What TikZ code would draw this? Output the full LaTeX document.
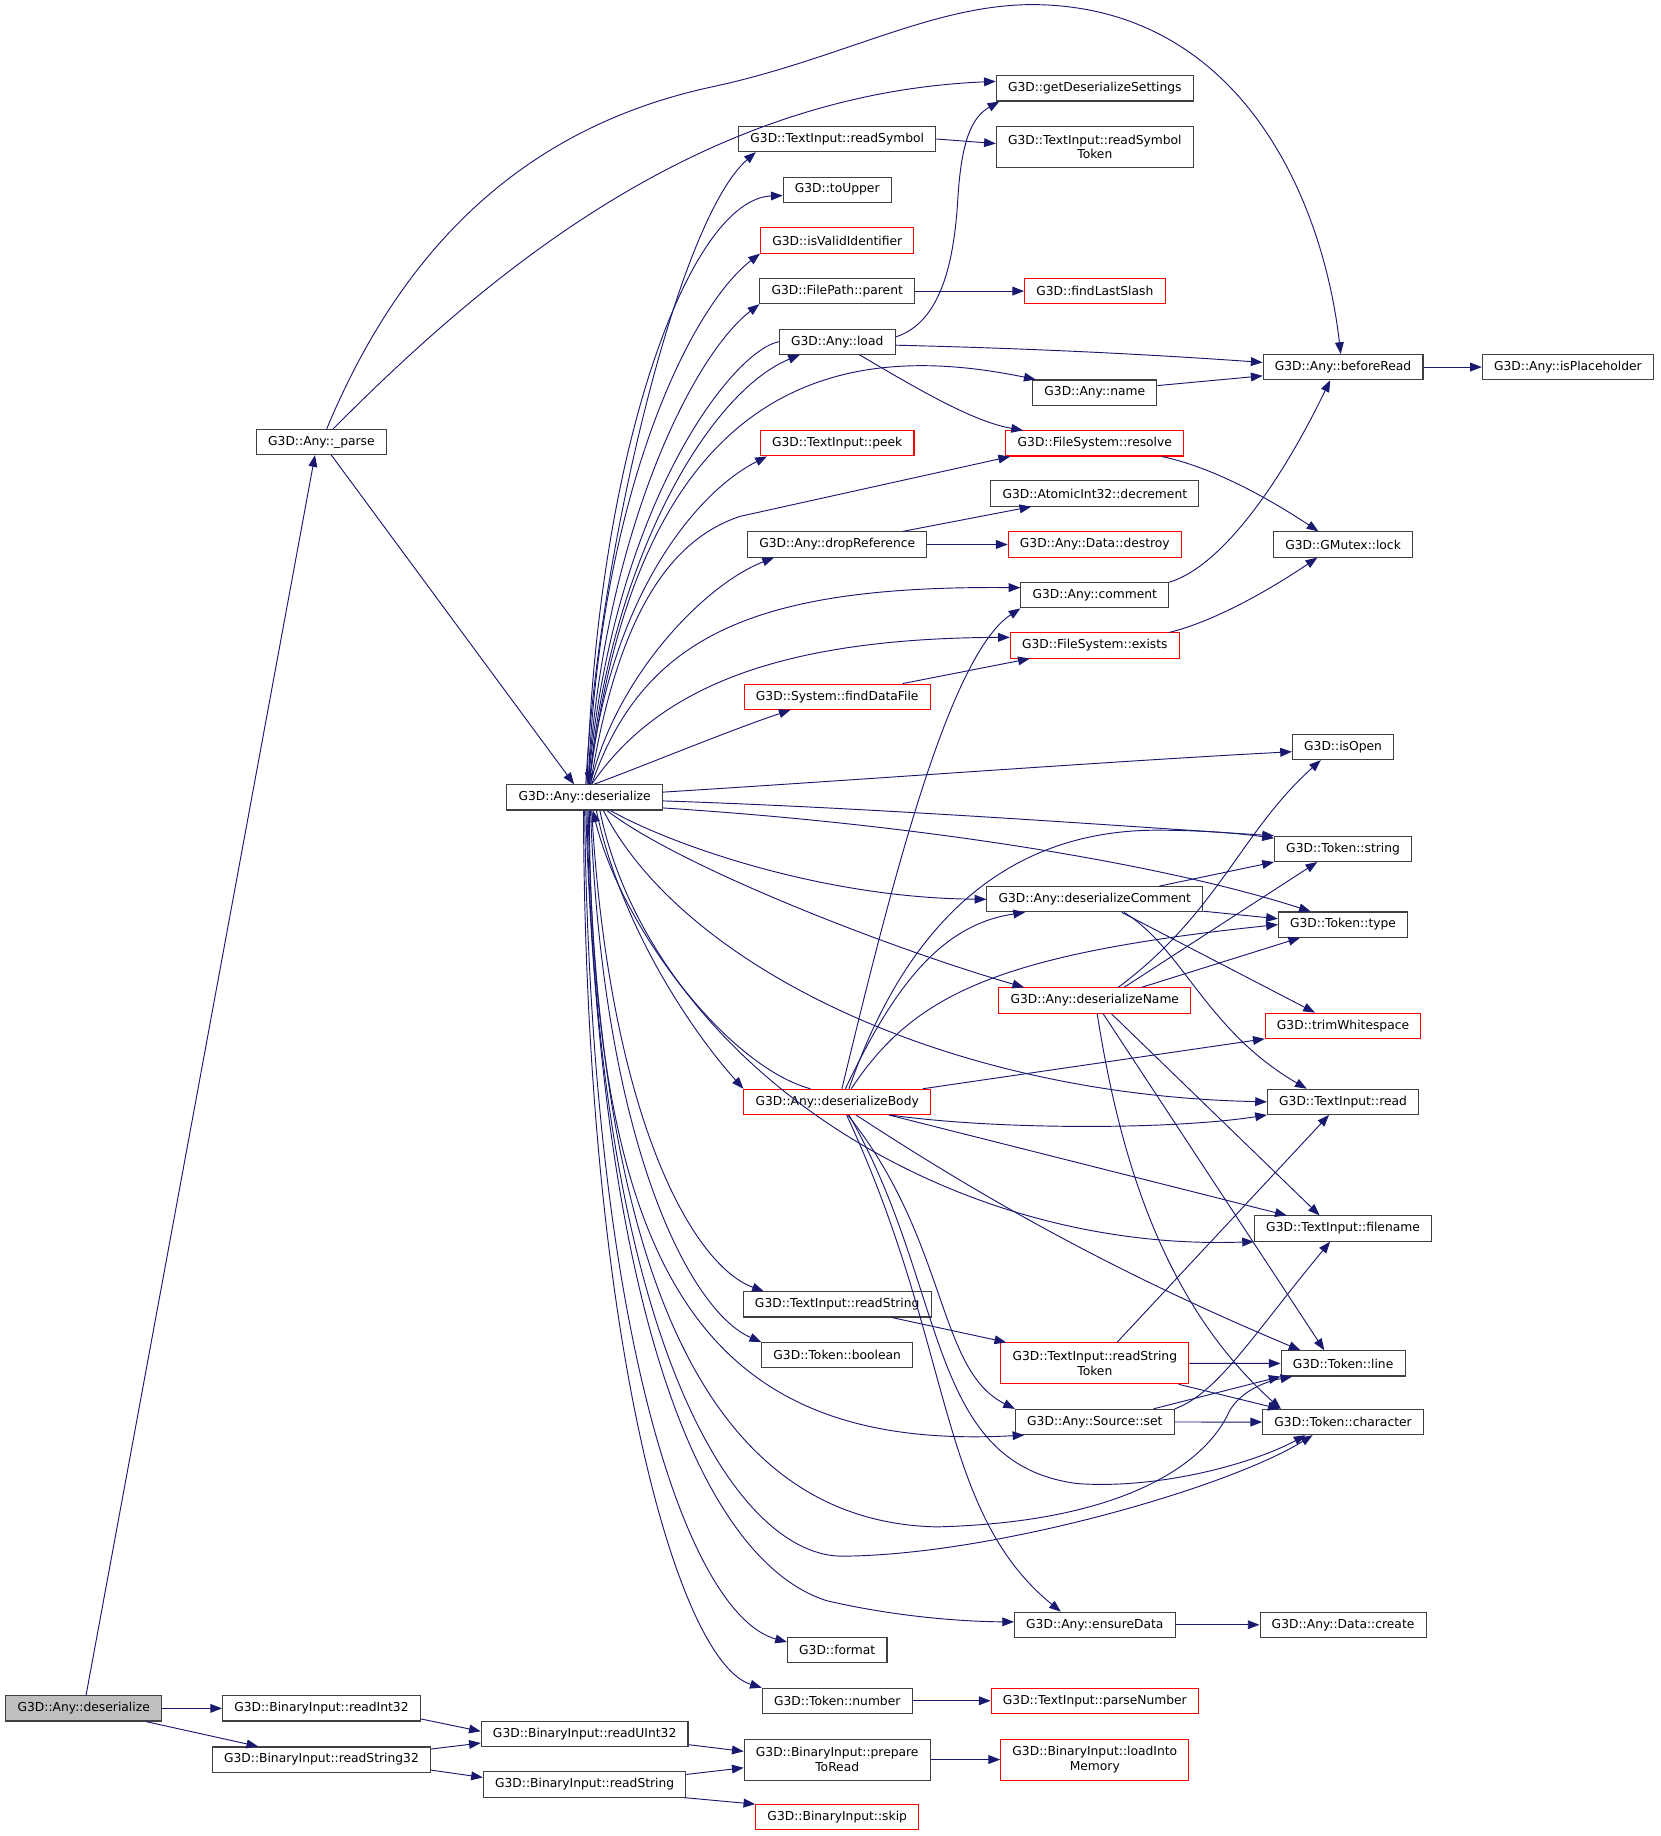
\documentclass[tikz,border=0pt]{standalone}
\usepackage{fontspec}
\setmainfont{DejaVu Sans}
\usetikzlibrary{arrows.meta}
\definecolor{edgeblue}{RGB}{25,25,112}
\definecolor{boxline}{RGB}{64,64,64}
\tikzset{fn/.style={draw=boxline,line width=0.9pt,fill=white,inner xsep=10pt,inner ysep=0pt,minimum height=21.5pt,align=center,font=\fontsize{10.5}{12.5}\selectfont},
  fnred/.style={fn,draw=red},
  fnroot/.style={fn,fill=black!25},
  twoline/.style={minimum height=35pt},
  arr/.style={-{Triangle[length=10pt,width=7.5pt]},draw=edgeblue,line width=0.8pt}}
\begin{document}
\begin{tikzpicture}[x=1pt,y=-1pt]
\useasboundingbox (0,0) rectangle (1418,1568);
% callers on the left
\node[fnroot] (dsrA) at (71.5,1459){G3D::Any::deserialize};
\node[fn] (parse) at (274.5,377.5){G3D::Any::\_parse};
\node[fn] (rdInt) at (274.5,1459){G3D::BinaryInput::readInt32};
\node[fn] (rdStr32) at (274.5,1502.7){G3D::BinaryInput::readString32};
\node[fn] (dsr) at (499.3,681){G3D::Any::deserialize};
\node[fn] (rdUInt) at (499.3,1481){G3D::BinaryInput::readUInt32};
\node[fn] (rdStrB) at (499.3,1524){G3D::BinaryInput::readString};
% middle column
\node[fn] (rdSym) at (715,118.7){G3D::TextInput::readSymbol};
\node[fn] (toUpper) at (715,162){G3D::toUpper};
\node[fnred] (isVal) at (715,205.4){G3D::isValidIdentifier};
\node[fn] (parent) at (715,248.6){G3D::FilePath::parent};
\node[fn] (load) at (715,291.8){G3D::Any::load};
\node[fnred] (peek) at (715,378.6){G3D::TextInput::peek};
\node[fn] (dropRef) at (715,465){G3D::Any::dropReference};
\node[fnred] (fdf) at (715,595){G3D::System::findDataFile};
\node[fnred] (dsrBody) at (715,941){G3D::Any::deserializeBody};
\node[fn] (rdStrT) at (715,1114){G3D::TextInput::readString};
\node[fn] (bool) at (715,1157.4){G3D::Token::boolean};
\node[fn] (format) at (715,1409.3){G3D::format};
\node[fn] (number) at (715,1452.5){G3D::Token::number};
\node[fn,twoline] (prep) at (715,1502.7){G3D::BinaryInput::prepare\\ToRead};
\node[fnred] (skip) at (715,1552){G3D::BinaryInput::skip};
% next column
\node[fn] (getDS) at (935,75.5){G3D::getDeserializeSettings};
\node[fn,twoline] (rdSymTok) at (935,125.6){G3D::TextInput::readSymbol\\Token};
\node[fnred] (lastSlash) at (935,248.6){G3D::findLastSlash};
\node[fn] (name) at (935,335.3){G3D::Any::name};
\node[fnred] (resolve) at (935,378.7){G3D::FileSystem::resolve};
\node[fn] (decrement) at (935,421.5){G3D::AtomicInt32::decrement};
\node[fnred] (destroy) at (935,465){G3D::Any::Data::destroy};
\node[fn] (comment) at (935,508.4){G3D::Any::comment};
\node[fnred] (exists) at (935,551.3){G3D::FileSystem::exists};
\node[fn] (dsrCom) at (935,768){G3D::Any::deserializeComment};
\node[fnred] (dsrName) at (935,854.4){G3D::Any::deserializeName};
\node[fnred,twoline] (rst) at (935,1164.3){G3D::TextInput::readString\\Token};
\node[fn] (srcSet) at (935,1214.4){G3D::Any::Source::set};
\node[fn] (ensure) at (935,1387.6){G3D::Any::ensureData};
\node[fnred] (parseNum) at (935,1452.5){G3D::TextInput::parseNumber};
\node[fnred,twoline] (loadMem) at (935,1502.7){G3D::BinaryInput::loadInto\\Memory};
% leaves on the right
\node[fn] (beforeRead) at (1147,313.5){G3D::Any::beforeRead};
\node[fn] (isPlace) at (1339,313.5){G3D::Any::isPlaceholder};
\node[fn] (lock) at (1147,465){G3D::GMutex::lock};
\node[fn] (isOpen) at (1147,638){G3D::isOpen};
\node[fn] (string) at (1147,725){G3D::Token::string};
\node[fn] (type) at (1147,789.6){G3D::Token::type};
\node[fnred] (trim) at (1147,876){G3D::trimWhitespace};
\node[fn] (read) at (1147,941){G3D::TextInput::read};
\node[fn] (fname) at (1147,1049.2){G3D::TextInput::filename};
\node[fn] (line) at (1147,1164.4){G3D::Token::line};
\node[fn] (chr) at (1147,1214.5){G3D::Token::character};
\node[fn] (create) at (1147,1387.6){G3D::Any::Data::create};

% binary input branch
\draw[arr] (dsrA)--(rdInt); \draw[arr] ([xshift=-14]dsrA.south east)--([xshift=-54]rdStr32.north);
\draw[arr] ([yshift=-9]rdInt.east)--([yshift=2.4]rdUInt.west); \draw[arr] ([yshift=9]rdStr32.east)--([yshift=-7.6]rdUInt.west);
\draw[arr] ([yshift=-9]rdStr32.east)--([yshift=6]rdStrB.west);
\draw[arr] ([yshift=-9]rdUInt.east)--([yshift=7]prep.west); \draw[arr] ([yshift=8.6]rdStrB.east)--([yshift=-7]prep.west);
\draw[arr] ([xshift=-2]rdStrB.south east)--(skip.north west); \draw[arr] (prep)--(loadMem);
% _parse
\draw[arr] ([xshift=2]dsrA.north)--([xshift=-5.5]parse.south);
\draw[arr] ([xshift=8.5]parse.south)--([xshift=-9]dsr.north);
\draw[arr] ([xshift=10]parse.north) .. controls (420,230) and (600,80) .. ([yshift=6]getDS.west);
\draw[arr] ([xshift=4.5]parse.north) .. controls (340,220) and (440,110) .. (609,74) .. controls (720,50) and (800,2) .. (887,4) .. controls (1060,8) and (1130,170) .. ([xshift=-2]beforeRead.north);
% deserialize, upwards
\draw[arr] ([xshift=1]dsr.north) .. controls (510,480) and (578,189) .. ([xshift=15]rdSym.south west);
\draw[arr] ([xshift=2]dsr.north) .. controls (510,380) and (590,170) .. ([yshift=-5]toUpper.west);
\draw[arr] ([xshift=3]dsr.north) .. controls (512,420) and (590,262) .. (isVal.south west);
\draw[arr] ([xshift=3]dsr.north) .. controls (515,460) and (590,305) .. (parent.south west);
\draw[arr] ([xshift=4]dsr.north) .. controls (520,480) and (605,335) .. ([xshift=18]load.south west);
\draw[arr] (load.west) .. controls (625,300) and (525,430) .. ([xshift=3]dsr.north);
\draw[arr] ([xshift=4]dsr.north) .. controls (545,320) and (720,290) .. ([xshift=3]name.north west);
\draw[arr] ([xshift=4]dsr.north) .. controls (520,510) and (595,420) .. ([xshift=6]peek.south west);
\draw[arr] ([xshift=5]dsr.north) .. controls (528,520) and (575,460) .. (632,441) -- ([xshift=4]resolve.south west);
\draw[arr] ([xshift=5]dsr.north) .. controls (525,580) and (600,500) .. ([xshift=23]dropRef.south west);
\draw[arr] ([xshift=6]dsr.north) .. controls (550,540) and (650,500) .. ([yshift=6.5]comment.west);
\draw[arr] ([xshift=6]dsr.north) .. controls (560,590) and (660,545) .. ([yshift=7]exists.west);
\draw[arr] ([xshift=8]dsr.north) .. controls (560,650) and (620,625) .. ([xshift=40]fdf.south west);
% deserialize, to the right and downwards
\draw[arr] ([yshift=4.5]dsr.east) .. controls (750,665) and (950,650) .. ([yshift=-4]isOpen.west);
\draw[arr] ([yshift=-3]dsr.east) .. controls (750,690) and (950,705) .. (string.north west);
\draw[arr] ([yshift=-9]dsr.east) .. controls (800,705) and (1000,740) .. ([xshift=28]type.north west);
\draw[arr] ([xshift=22]dsr.south) .. controls (570,720) and (700,767) .. (dsrCom.west);
\draw[arr] ([xshift=19]dsr.south) .. controls (580,740) and (760,810) .. ([xshift=22]dsrName.north west);
\draw[arr] ([xshift=16]dsr.south) .. controls (580,820) and (800,935) .. (read.west);
\draw[arr] ([xshift=13]dsr.south) .. controls (555,900) and (800,1070) .. (fname.south west);
\draw[arr] ([xshift=10]dsr.south) .. controls (530,790) and (590,880) .. (dsrBody.north west);
\draw[arr] ([xshift=-23]dsrBody.north) .. controls (620,910) and (530,790) .. ([xshift=7]dsr.south);
\draw[arr] ([xshift=6]dsr.south) .. controls (520,950) and (590,1080) .. ([xshift=18]rdStrT.north west);
\draw[arr] ([xshift=5]dsr.south) .. controls (515,980) and (590,1120) .. (bool.north west);
\draw[arr] ([xshift=4]dsr.south) .. controls (505,1100) and (610,1240) .. ([xshift=8]srcSet.south west);
\draw[arr] ([xshift=3]dsr.south) .. controls (510,1120) and (620,1300) .. (800,1304) .. controls (960,1300) and (1030,1250) .. (1050,1205) .. controls (1060,1188) and (1080,1180) .. ([xshift=10]line.south west);
\draw[arr] ([xshift=2]dsr.south) .. controls (510,1150) and (630,1330) .. (720,1329) .. controls (850,1328) and (1050,1270) .. ([xshift=43]chr.south west);
\draw[arr] ([xshift=1]dsr.south) .. controls (515,1180) and (620,1340) .. (706,1367) .. controls (770,1382) and (830,1385) .. ([yshift=2.5]ensure.west);
\draw[arr] (dsr.south) .. controls (505,1150) and (590,1380) .. ([yshift=7]format.west);
\draw[arr] ([xshift=-1]dsr.south) .. controls (500,1150) and (580,1420) .. (number.north west);
% middle column
\draw[arr] (rdSym.east)--([yshift=3]rdSymTok.west); \draw[arr] (parent)--(lastSlash);
\draw[arr] ([yshift=4]load.east) .. controls (805,275) and (815,220) .. (818,170) .. controls (821,120) and (830,100) .. ([xshift=3]getDS.south west);
\draw[arr] ([yshift=-3]load.east) .. controls (900,298) and (1000,304) .. ([yshift=4]beforeRead.west);
\draw[arr] ([xshift=19]load.south) .. controls (780,330) and (830,360) .. ([xshift=15]resolve.north west);
\draw[arr] ([xshift=-21]dropRef.north east)--([xshift=35]decrement.south west); \draw[arr] (dropRef)--(destroy);
\draw[arr] ([xshift=-24]fdf.north east)--([xshift=17]exists.south west);
\draw[arr] ([xshift=-34]rdStrT.south east)--([xshift=5]rst.north west);
\draw[arr] (number)--(parseNum); \draw[arr] (ensure)--(create);
% deserializeBody
\draw[arr] ([xshift=4]dsrBody.north) .. controls (760,760) and (810,560) .. (comment.south west);
\draw[arr] ([xshift=7]dsrBody.north) .. controls (760,850) and (800,790) .. ([xshift=33]dsrCom.south west);
\draw[arr] ([xshift=10]dsrBody.north) .. controls (770,800) and (850,710) .. (986,709) .. controls (1030,709) and (1060,712) .. ([yshift=-2]string.north west);
\draw[arr] ([xshift=12]dsrBody.north) .. controls (780,850) and (850,815) .. (type.west);
\draw[arr] ([xshift=-7]dsrBody.north east)--(trim.south west);
\draw[arr] ([xshift=45]dsrBody.south) .. controls (850,965) and (1000,965) .. (read.south west);
\draw[arr] ([xshift=44]dsrBody.south)--([xshift=28]fname.north west);
\draw[arr] ([xshift=16]dsrBody.south) .. controls (850,1030) and (960,1090) .. ([xshift=17]line.north west);
\draw[arr] ([xshift=9]dsrBody.south) .. controls (810,1060) and (800,1170) .. (srcSet.north west);
\draw[arr] ([xshift=10]dsrBody.south) .. controls (810,1100) and (790,1250) .. (920,1267) .. controls (990,1272) and (1070,1250) .. ([xshift=37]chr.south west);
\draw[arr] ([xshift=8]dsrBody.south) .. controls (815,1150) and (800,1290) .. ([xshift=40]ensure.north west);
% right column
\draw[arr] ([yshift=6]name.east)--([yshift=-7.5]beforeRead.west); \draw[arr] (beforeRead)--(isPlace);
\draw[arr] ([xshift=-19]resolve.south east) .. controls (1040,400) and (1090,430) .. ([xshift=-21]lock.north);
\draw[arr] ([xshift=-9]exists.north east) .. controls (1040,530) and (1090,500) .. ([xshift=-22]lock.south);
\draw[arr] (comment.north east) .. controls (1040,485) and (1090,420) .. ([xshift=-11]beforeRead.south);
\draw[arr] ([xshift=55]dsrCom.north)--(string.south west);
\draw[arr] ([yshift=1]dsrCom.south east)--([yshift=5]type.west);
\draw[arr] ([xshift=23]dsrCom.south)--([xshift=-24]trim.north);
\draw[arr] ([xshift=25]dsrCom.south) .. controls (1010,810) and (1030,880) .. ([xshift=-31]read.north);
\draw[arr] ([xshift=20]dsrName.north) .. controls (1040,780) and (1060,710) .. ([xshift=-19]isOpen.south);
\draw[arr] ([xshift=25]dsrName.north)--([xshift=-22]string.south);
\draw[arr] ([xshift=40]dsrName.north)--([xshift=19]type.south west);
\draw[arr] ([xshift=14]dsrName.south)--([xshift=-20]fname.north);
\draw[arr] ([xshift=7]dsrName.south)--([xshift=-16]line.north);
\draw[arr] ([xshift=2]dsrName.south) .. controls (955,980) and (990,1110) .. ([xshift=16]chr.north west);
\draw[arr] ([xshift=19]rst.north)--([xshift=-12]read.south); \draw[arr] (rst.east)--(line.west);
\draw[arr] ([xshift=-9]rst.south east)--([xshift=15]chr.north west);
\draw[arr] (srcSet.north east) .. controls (1040,1190) and (1070,1140) .. ([xshift=-11]fname.south);
\draw[arr] ([xshift=50]srcSet.north)--(line.south west); \draw[arr] (srcSet)--(chr);
\end{tikzpicture}
\end{document}
